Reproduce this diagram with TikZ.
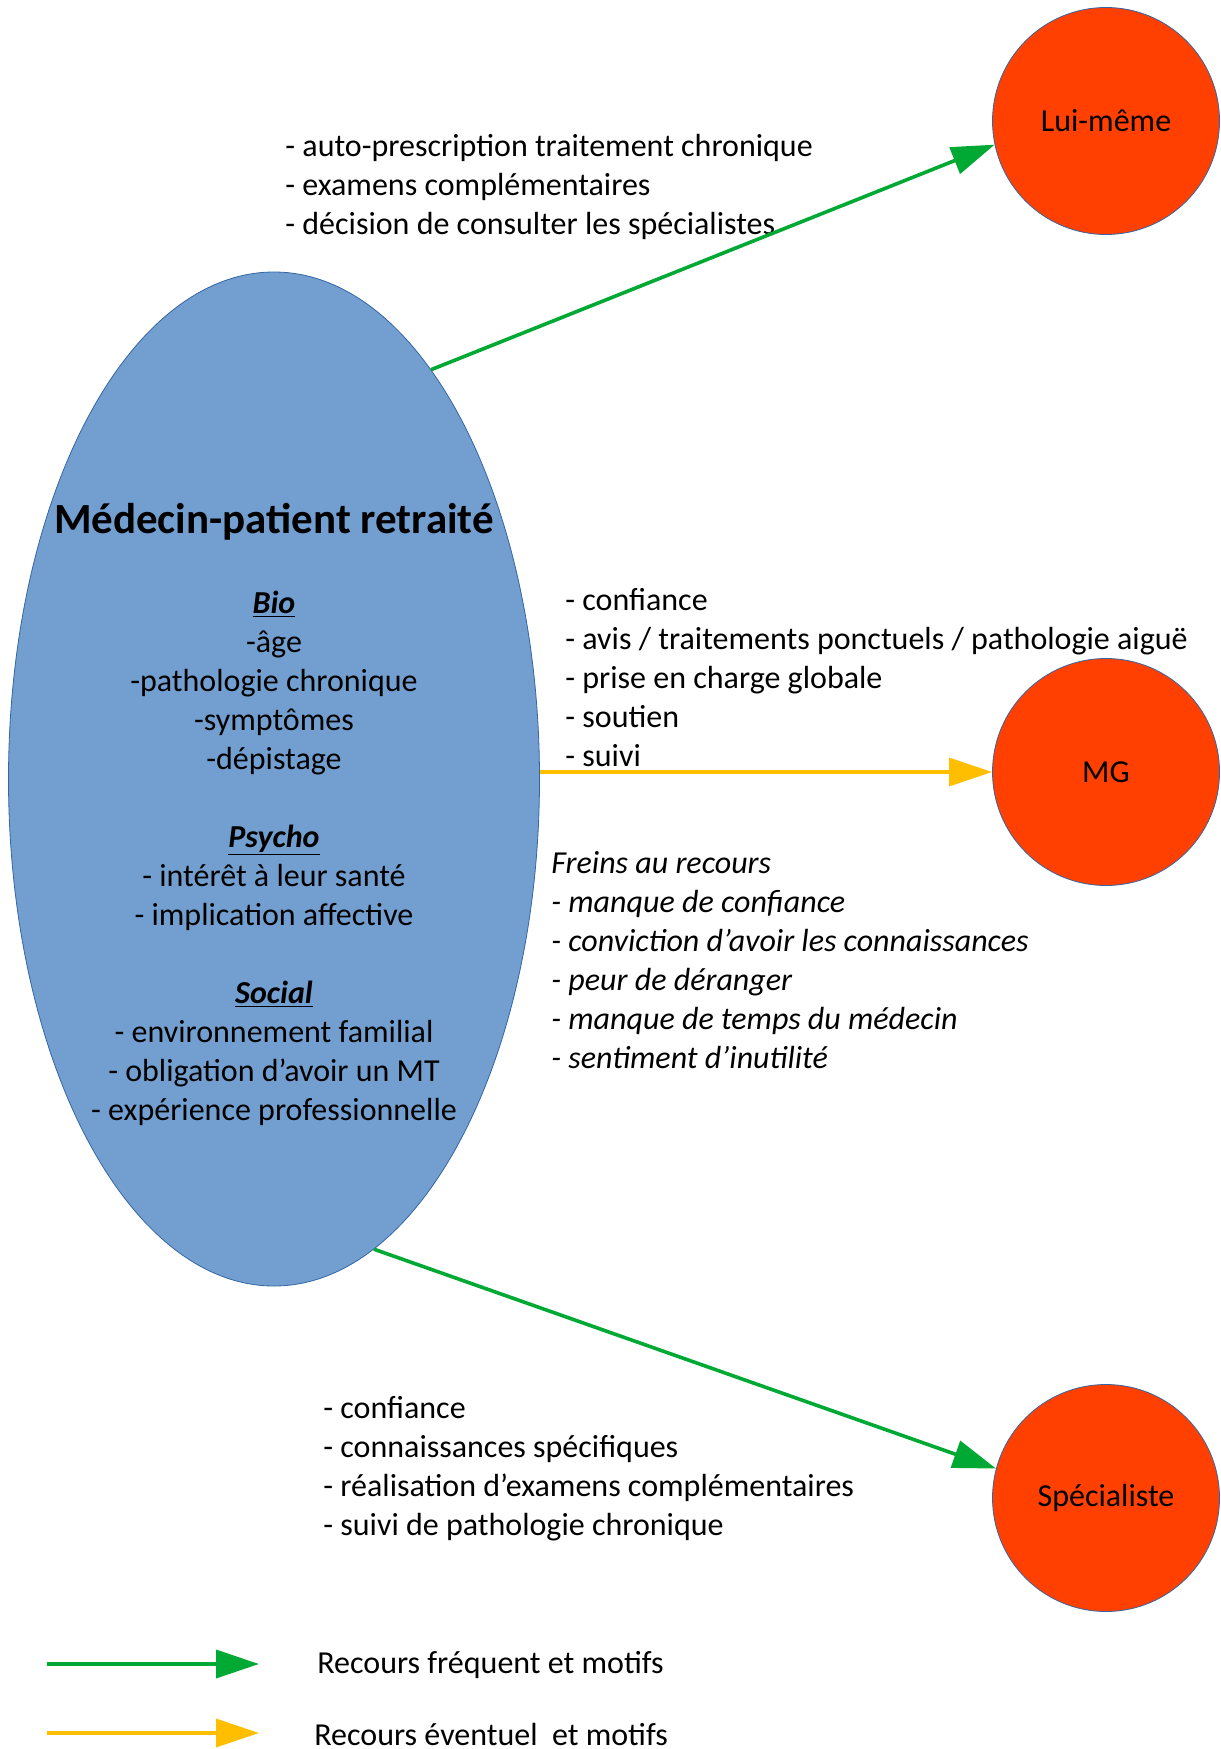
\documentclass[tikz,border=0pt]{standalone}
\usepackage{fontspec}
\setmainfont{Carlito}
\usetikzlibrary{arrows.meta,positioning,shapes.geometric}
\definecolor{patblue}{HTML}{729FCF}
\definecolor{patline}{HTML}{3465A4}
\definecolor{recred}{HTML}{FF4000}
\definecolor{recgreen}{HTML}{00A933}
\definecolor{recgold}{HTML}{FFBF00}

\begin{document}
\begin{tikzpicture}[x=0.5pt,y=-0.5pt,>={Triangle[length=21.5pt,width=14pt]},
  every node/.style={font=\fontsize{16}{19.5}\selectfont},
  actor/.style={circle,draw=patline,line width=0.4pt,fill=recred,minimum size=113.5pt,inner sep=0pt},
  freq/.style={->,draw=recgreen,line width=1.8pt},
  occas/.style={->,draw=recgold,line width=1.8pt},
  motifs/.style={anchor=base west,align=left,inner sep=0pt}]
\useasboundingbox (0,0) rectangle (1220,1749);
\node[ellipse,draw=patline,line width=0.4pt,fill=patblue,minimum width=265.5pt,minimum height=507pt,inner sep=0pt] (patient) at (274,779) {};
\node[actor] (lui) at (1106,121) {Lui-même};
\node[actor] (mg) at (1106,772) {MG};
\node[actor] (spec) at (1106,1498) {Spécialiste};

\node[font=\fontsize{21.5}{26}\selectfont\bfseries] (titre) at (274,522) {Médecin-patient retraité};
\node[align=center,anchor=base] (facteurs) at (274,1120) {\textbf{\textit{\underline{Bio}}}\\-âge\\-pathologie chronique\\-symptômes\\-dépistage\\[19.5pt]
  \textbf{\textit{\underline{Psycho}}}\\- intérêt à leur santé\\- implication affective\\[19.5pt]
  \textbf{\textit{\underline{Social}}}\\- environnement familial\\- obligation d’avoir un MT\\- expérience professionnelle};

\node[motifs] (soi) at (285,235) {- auto-prescription traitement chronique\\- examens complémentaires\\- décision de consulter les spécialistes};
\node[motifs] (generaliste) at (565,766) {- confiance\\- avis / traitements ponctuels / pathologie aiguë\\- prise en charge globale\\- soutien\\- suivi};
\node[motifs,font=\fontsize{16}{19.5}\selectfont\itshape] (freins) at (551,1068) {Freins au recours\\- manque de confiance\\- conviction d’avoir les connaissances\\- peur de déranger\\- manque de temps du médecin\\- sentiment d’inutilité};
\node[motifs] (specialite) at (323,1535) {- confiance\\- connaissances spécifiques\\- réalisation d’examens complémentaires\\- suivi de pathologie chronique};

\draw[freq] (patient.69.5) -- (lui.192);
\draw[occas] (mg.west -| patient.east) -- (mg.west);
\draw[freq] (patient.282) -- (spec.165);

\coordinate (freqA) at (47,1664);
\coordinate (freqB) at (259,1664);
\coordinate (occasA) at (47,1733);
\coordinate (occasB) at (259,1733);
\draw[freq] (freqA) -- (freqB);
\draw[occas] (occasA) -- (occasB);
\node[anchor=west,inner sep=0pt] (freqtxt) at (317,1665) {Recours fréquent et motifs};
\node[anchor=west,inner sep=0pt] (occastxt) at (314,1734) {Recours éventuel\ \ et motifs};
\end{tikzpicture}
\end{document}
